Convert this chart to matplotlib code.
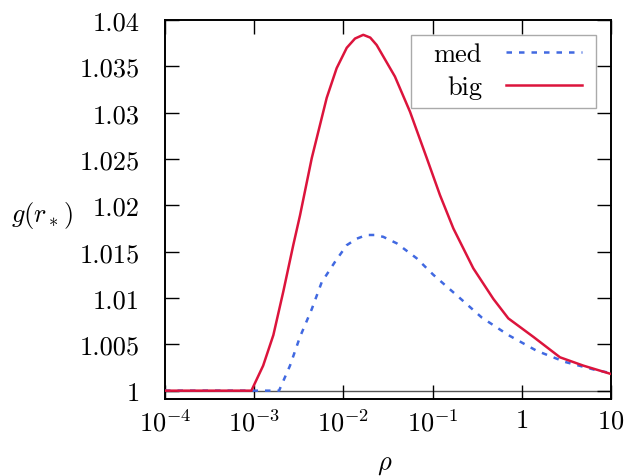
import matplotlib
matplotlib.use('Agg')
import matplotlib.pyplot as plt
from matplotlib.ticker import NullLocator
from matplotlib.patches import Rectangle

plt.rcParams['mathtext.fontset'] = 'cm'
plt.rcParams['font.family'] = ['cmr10']
plt.rcParams['axes.unicode_minus'] = False

# big system
rho_big = [1e-4, 9.3e-4, 1.26e-3, 1.64e-3, 2.12e-3, 2.74e-3, 3.26e-3, 4.42e-3,
           6.5e-3, 8.4e-3, 1.09e-2, 1.35e-2, 1.67e-2, 2.0e-2, 2.36e-2, 3.78e-2,
           5.58e-2, 8.6e-2, 0.121, 0.171, 0.286, 0.48, 0.706, 1.35, 2.68, 4.9, 10]
g_big = [1.0, 1.0, 1.0027, 1.006, 1.0107, 1.0157, 1.0189, 1.0251,
         1.0316, 1.0348, 1.0370, 1.0380, 1.0384, 1.0381, 1.0373, 1.0339,
         1.0301, 1.0251, 1.0211, 1.0175, 1.0132, 1.0099, 1.0078, 1.0058, 1.0036, 1.0027, 1.0018]

# medium system
rho_med = [1e-4, 1.9e-3, 2.52e-3, 3.26e-3, 4.42e-3, 5.71e-3, 8.05e-3, 1.09e-2,
           1.41e-2, 1.82e-2, 2.24e-2, 2.8e-2, 3.96e-2, 6.6e-2, 0.102, 0.186,
           0.355, 0.706, 1.47, 3.05, 6.9, 10]
g_med = [1.0, 1.0, 1.0027, 1.0058, 1.0088, 1.0117, 1.0139, 1.0157,
         1.0164, 1.0168, 1.0168, 1.0166, 1.0159, 1.0143, 1.0125, 1.0103,
         1.0079, 1.0060, 1.0043, 1.0031, 1.0022, 1.0019]

xticks = [1e-4, 1e-3, 1e-2, 1e-1, 1, 10]
xticklabels = [r'$10^{-4}$', r'$10^{-3}$', r'$10^{-2}$', r'$10^{-1}$', r'$1$', r'$10$']
yticks = [1.0, 1.005, 1.01, 1.015, 1.02, 1.025, 1.03, 1.035, 1.04]
yticklabels = ['1', '1.005', '1.01', '1.015', '1.02', '1.025', '1.03', '1.035', '1.04']

fig = plt.figure(figsize=(6.26, 4.77), dpi=100)
ax = fig.add_axes([165/626, 1-400/477, 446/626, 379/477])

ax.axhline(1.0, color='#555555', lw=1.0, zorder=1)
ax.plot(rho_med, g_med, color='#4169E1', lw=1.8, dashes=(2.2, 2.8), label='med', zorder=3)
ax.plot(rho_big, g_big, color='#DC143C', lw=1.8, label='big', zorder=4)

ax.set_xscale('log')
ax.set_xlim(1e-4, 10)
ax.set_ylim(0.9991, 1.04)
ax.set_xticks(xticks)
ax.set_xticklabels(xticklabels)
ax.xaxis.set_minor_locator(NullLocator())
ax.set_yticks(yticks)
ax.set_yticklabels(yticklabels)

ax.tick_params(axis='both', which='both', direction='in', length=10, width=1,
               top=True, right=True, labelsize=19)
ax.tick_params(axis='y', pad=18)
ax.tick_params(axis='x', pad=7)
for s in ax.spines.values():
    s.set_linewidth(1.4)

ax.set_xlabel(r'$\rho$', fontsize=19, va='center')
ax.xaxis.set_label_coords(0.493, -0.171)
ax.set_ylabel(r'$g(r_*)$', fontsize=19, rotation=0, ha='center', va='center')
ax.yaxis.set_label_coords(-0.276, 0.488)

# gnuplot style key box
ax.add_patch(Rectangle((0.551, 0.768), 0.415, 0.192, transform=ax.transAxes,
                       facecolor='white', edgecolor='#aaaaaa', lw=1.0, zorder=5))
leg = ax.legend(loc='upper right', bbox_to_anchor=(0.934, 0.941), markerfirst=False,
                frameon=False, fontsize=19, handlelength=2.87, borderpad=0,
                labelspacing=0.36, handletextpad=0.91, borderaxespad=0)
leg.set_zorder(6)

fig.savefig('out.png', dpi=100)
